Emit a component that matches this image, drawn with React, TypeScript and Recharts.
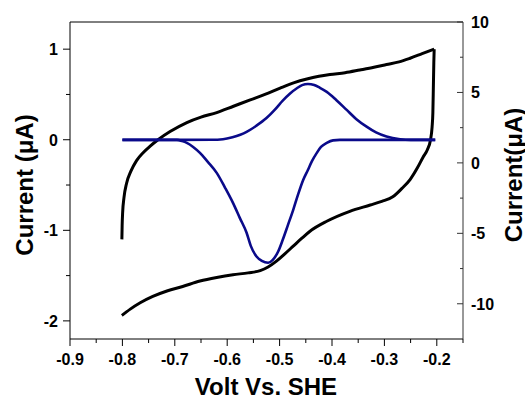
import React from "react";
import { LineChart, Line, XAxis, YAxis, ReferenceLine } from "recharts";

// cyclic voltammogram (black), left axis, uA
// anodic sweep
const cvFwdVolt = [
  -0.801, -0.8005, -0.7995, -0.797, -0.792, -0.784, -0.773, -0.76, -0.747, -0.732,
  -0.709, -0.677, -0.65, -0.62, -0.588, -0.556, -0.528, -0.499, -0.472, -0.448,
  -0.425, -0.404, -0.375, -0.347, -0.32, -0.296, -0.272, -0.251, -0.228, -0.205,
];
const cvFwdCurrent = [
  -1.1, -0.95, -0.8, -0.64, -0.48, -0.35, -0.23, -0.14, -0.07, 0.0,
  0.09, 0.19, 0.25, 0.3, 0.37, 0.44, 0.5, 0.57, 0.63, 0.67,
  0.7, 0.72, 0.74, 0.77, 0.8, 0.83, 0.86, 0.9, 0.95, 1.0,
];
// cathodic sweep (listed left to right)
const cvRevVolt = [
  -0.801, -0.785, -0.766, -0.742, -0.715, -0.685, -0.652, -0.62, -0.589, -0.56,
  -0.537, -0.522, -0.506, -0.49, -0.474, -0.458, -0.442, -0.41, -0.366, -0.327,
  -0.305, -0.284, -0.267, -0.251, -0.237, -0.226, -0.218, -0.212, -0.209, -0.2075,
  -0.2065, -0.2057, -0.205,
];
const cvRevCurrent = [
  -1.94, -1.87, -1.8, -1.73, -1.67, -1.62, -1.56, -1.52, -1.49, -1.47,
  -1.445, -1.405, -1.34, -1.26, -1.175, -1.09, -1.01, -0.9, -0.79, -0.72,
  -0.68, -0.63, -0.54, -0.44, -0.31, -0.19, -0.11, 0.0, 0.14, 0.3,
  0.6, 0.85, 1.0,
];

// fitted peaks (blue), right axis, uA
const fitOxVolt = [
  -0.8, -0.696, -0.63, -0.608, -0.59, -0.575, -0.563, -0.545, -0.525, -0.509,
  -0.494, -0.48, -0.467, -0.457, -0.446, -0.434, -0.423, -0.41, -0.392, -0.372,
  -0.354, -0.334, -0.316, -0.296, -0.27, -0.25, -0.203,
];
const fitOxCurrent = [
  1.63, 1.63, 1.64, 1.68, 1.82, 2.0, 2.2, 2.62, 3.18, 3.78,
  4.42, 4.93, 5.3, 5.52, 5.6, 5.53, 5.33, 5.04, 4.47, 3.76,
  3.12, 2.57, 2.16, 1.87, 1.68, 1.63, 1.63,
];
const fitRedVolt = [
  -0.8, -0.696, -0.686, -0.677, -0.665, -0.652, -0.637, -0.62, -0.604, -0.589,
  -0.576, -0.563, -0.555, -0.544, -0.534, -0.522, -0.513, -0.503, -0.494, -0.484,
  -0.474, -0.465, -0.455, -0.446, -0.438, -0.429, -0.421, -0.41, -0.398, -0.385,
  -0.203,
];
const fitRedCurrent = [
  1.63, 1.63, 1.55, 1.42, 1.13, 0.71, 0.07, -0.71, -1.77, -2.84,
  -3.9, -4.96, -5.89, -6.65, -6.95, -7.09, -6.88, -6.31, -5.46, -4.4,
  -3.33, -2.27, -1.21, -0.5, 0.14, 0.71, 1.13, 1.42, 1.6, 1.63,
  1.63,
];

const xTicks = [
  -0.9, -0.85, -0.8, -0.75, -0.7, -0.65, -0.6, -0.55, -0.5, -0.45, -0.4,
  -0.35, -0.3, -0.25, -0.2, -0.15,
];
const leftTicks = [-2, -1.5, -1, -0.5, 0, 0.5, 1];
const rightTicks = [-10, -7.5, -5, -2.5, 0, 2.5, 5, 7.5, 10];

const pts = (xs: number[], ys: number[]) => xs.map((x, i) => ({ x, y: ys[i] }));
const cvFwd = pts(cvFwdVolt, cvFwdCurrent);
const cvRev = pts(cvRevVolt, cvRevCurrent);
const fitOx = pts(fitOxVolt, fitOxCurrent);
const fitRed = pts(fitRedVolt, fitRedCurrent);

const FONT = "'Liberation Sans', Arial, sans-serif";

const LeftTick = (props: any) => {
  const { x, y, payload } = props;
  const v = payload.value;
  const major = Number.isInteger(v);
  return (
    <g>
      <line x1={x - (major ? 7 : 4)} x2={x} y1={y} y2={y} stroke="#000" />
      {major && (
        <text x={x - 12} y={y} dy={6} textAnchor="end" fontFamily={FONT} fontWeight="bold" fontSize={16} fill="#000">
          {v}
        </text>
      )}
    </g>
  );
};

const RightTick = (props: any) => {
  const { x, y, payload } = props;
  const v = payload.value;
  const major = v % 5 === 0;
  return (
    <g>
      <line x1={x - (major ? 6 : 3)} x2={x} y1={y} y2={y} stroke="#333" />
      {major && (
        <text x={x + 8} y={y} dy={6} textAnchor="start" fontFamily={FONT} fontWeight="bold" fontSize={16} fill="#000">
          {v}
        </text>
      )}
    </g>
  );
};

const BottomTick = (props: any) => {
  const { x, y, payload } = props;
  const v = payload.value;
  const major = Math.abs(v * 10 - Math.round(v * 10)) < 1e-6;
  return (
    <g>
      <line x1={x} x2={x} y1={y} y2={y + (major ? 7 : 4)} stroke="#000" />
      {major && (
        <text x={x} y={y + 26} textAnchor="middle" fontFamily={FONT} fontWeight="bold" fontSize={16} fill="#000">
          {v.toFixed(1)}
        </text>
      )}
    </g>
  );
};

const titleStyle = { fontFamily: FONT, fontWeight: "bold" as const, fontSize: 24, fill: "#000" };

export default function App() {
  return (
    <div style={{ position: "absolute", left: 0, top: 0, background: "#fff" }}>
      <LineChart width={525} height={402} margin={{ top: 22, right: 0, bottom: 0, left: 0 }}>
        <XAxis
          dataKey="x"
          type="number"
          domain={[-0.9, -0.15]}
          ticks={xTicks}
          interval={0}
          allowDataOverflow
          height={63}
          tickSize={0}
          tickMargin={0}
          tickLine={false}
          tick={<BottomTick />}
          axisLine={{ stroke: "#000" }}
          label={() => (
            <text x={266} y={395} textAnchor="middle" style={titleStyle}>
              Volt Vs. SHE
            </text>
          )}
        />
        <YAxis
          yAxisId="left"
          type="number"
          domain={[-2.2, 1.3]}
          ticks={leftTicks}
          interval={0}
          allowDataOverflow
          width={70}
          tickSize={0}
          tickMargin={0}
          tickLine={false}
          tick={<LeftTick />}
          axisLine={{ stroke: "#000" }}
          label={() => (
            <text x={24} y={185} textAnchor="middle" dominantBaseline="central" transform="rotate(-90 24 185)" style={titleStyle}>
              Current (μA)
            </text>
          )}
        />
        <YAxis
          yAxisId="right"
          orientation="right"
          type="number"
          domain={[-12.5, 10]}
          ticks={rightTicks}
          interval={0}
          allowDataOverflow
          width={62}
          tickSize={0}
          tickMargin={0}
          tickLine={false}
          tick={<RightTick />}
          axisLine={{ stroke: "#333" }}
          label={() => (
            <text x={513} y={175} textAnchor="middle" dominantBaseline="central" transform="rotate(-90 513 175)" style={titleStyle}>
              Current(μA)
            </text>
          )}
        />
        <ReferenceLine yAxisId="left" y={1.3} stroke="#000" />
        <Line yAxisId="left" data={cvFwd} dataKey="y" type="monotone" stroke="#000" strokeWidth={3} dot={false} isAnimationActive={false} />
        <Line yAxisId="left" data={cvRev} dataKey="y" type="monotone" stroke="#000" strokeWidth={3} dot={false} isAnimationActive={false} />
        <Line yAxisId="right" data={fitOx} dataKey="y" type="monotone" stroke="#0a0a8a" strokeWidth={2.6} dot={false} isAnimationActive={false} />
        <Line yAxisId="right" data={fitRed} dataKey="y" type="monotone" stroke="#0a0a8a" strokeWidth={2.6} dot={false} isAnimationActive={false} />
      </LineChart>
    </div>
  );
}
